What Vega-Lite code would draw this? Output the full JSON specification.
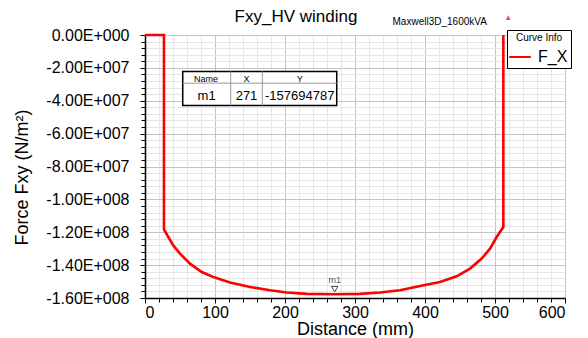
{
  "$schema": "https://vega.github.io/schema/vega-lite/v6.json",
  "autosize": "none",
  "width": 420,
  "height": 263,
  "padding": {"left": 145, "top": 35, "right": 23, "bottom": 40},
  "background": "white",
  "config": {
    "font": "Liberation Sans",
    "view": {"stroke": "black", "strokeWidth": 1}
  },
  "title": {
    "text": "Fxy_HV winding",
    "fontSize": 17,
    "fontWeight": "normal",
    "font": "Liberation Sans",
    "anchor": "middle",
    "frame": "group",
    "dx": -59,
    "dy": 20,
    "offset": 8,
    "color": "black"
  },
  "datasets": {
    "curve": [
      {"d": 0, "f": 0, "s": "F_X"},
      {"d": 27.1, "f": 0, "s": "F_X"},
      {"d": 27.1, "f": -118200000, "s": "F_X"},
      {"d": 33.3, "f": -122900000, "s": "F_X"},
      {"d": 40.4, "f": -128000000, "s": "F_X"},
      {"d": 50, "f": -133000000, "s": "F_X"},
      {"d": 64.3, "f": -139100000, "s": "F_X"},
      {"d": 81, "f": -144200000, "s": "F_X"},
      {"d": 97.6, "f": -147200000, "s": "F_X"},
      {"d": 121.4, "f": -150600000, "s": "F_X"},
      {"d": 150, "f": -153300000, "s": "F_X"},
      {"d": 178.6, "f": -155300000, "s": "F_X"},
      {"d": 202.4, "f": -156700000, "s": "F_X"},
      {"d": 231, "f": -157500000, "s": "F_X"},
      {"d": 271, "f": -157694787, "s": "F_X"},
      {"d": 307, "f": -157500000, "s": "F_X"},
      {"d": 335.7, "f": -156700000, "s": "F_X"},
      {"d": 364.3, "f": -155300000, "s": "F_X"},
      {"d": 392.9, "f": -152700000, "s": "F_X"},
      {"d": 421.4, "f": -150300000, "s": "F_X"},
      {"d": 445.3, "f": -146800000, "s": "F_X"},
      {"d": 464.3, "f": -142100000, "s": "F_X"},
      {"d": 481, "f": -136000000, "s": "F_X"},
      {"d": 492.9, "f": -130000000, "s": "F_X"},
      {"d": 502.4, "f": -122900000, "s": "F_X"},
      {"d": 511.9, "f": -116800000, "s": "F_X"},
      {"d": 511.9, "f": 0, "s": "F_X"}
    ],
    "one": [{}]
  },
  "data": {"name": "curve"},
  "resolve": {"axis": {"x": "independent", "y": "independent"}},
  "layer": [
    {
      "mark": {"type": "point", "opacity": 0},
      "encoding": {
        "x": {
          "field": "d", "type": "quantitative",
          "scale": {"domain": [0, 600], "nice": false, "zero": false},
          "axis": {
            "orient": "bottom",
            "values": [0,20,40,60,80,100,120,140,160,180,200,220,240,260,280,300,320,340,360,380,400,420,440,460,480,500,520,540,560,580,600],
            "labels": false, "domain": false, "title": null,
            "grid": true, "gridColor": "#e6e6e6", "gridWidth": 1,
            "ticks": true, "tickSize": 4, "tickColor": "black"
          }
        },
        "y": {
          "field": "f", "type": "quantitative",
          "scale": {"domain": [-160000000, 0], "nice": false, "zero": false},
          "axis": {
            "orient": "left",
            "values": [0,-4000000,-8000000,-12000000,-16000000,-20000000,-24000000,-28000000,-32000000,-36000000,-40000000,-44000000,-48000000,-52000000,-56000000,-60000000,-64000000,-68000000,-72000000,-76000000,-80000000,-84000000,-88000000,-92000000,-96000000,-100000000,-104000000,-108000000,-112000000,-116000000,-120000000,-124000000,-128000000,-132000000,-136000000,-140000000,-144000000,-148000000,-152000000,-156000000,-160000000],
            "labels": false, "domain": false, "title": null,
            "grid": true, "gridColor": "#e6e6e6", "gridWidth": 1,
            "ticks": true, "tickSize": 4, "tickColor": "black"
          }
        }
      }
    },
    {
      "mark": {"type": "line", "strokeWidth": 2.6, "interpolate": "linear"},
      "encoding": {
        "x": {
          "field": "d", "type": "quantitative",
          "scale": {"domain": [0, 600], "nice": false, "zero": false},
          "axis": {
            "orient": "bottom",
            "values": [0,100,200,300,400,500,600],
            "title": "Distance (mm)",
            "titleFontSize": 18, "titleFontWeight": "normal", "titleColor": "black",
            "titleBaseline": "middle", "titleY": 31.5,
            "labelFontSize": 16, "labelColor": "black", "labelPadding": 1,
            "grid": true, "gridColor": "#c4c4c4", "gridWidth": 1,
            "domain": true, "domainColor": "black", "domainWidth": 1.5,
            "ticks": true, "tickSize": 5, "tickColor": "black"
          }
        },
        "y": {
          "field": "f", "type": "quantitative",
          "scale": {"domain": [-160000000, 0], "nice": false, "zero": false},
          "axis": {
            "orient": "left",
            "values": [0,-20000000,-40000000,-60000000,-80000000,-100000000,-120000000,-140000000,-160000000],
            "labelExpr": "datum.value == 0 ? '0.00E+000' : '-' + format(abs(datum.value)/pow(10, floor(log(abs(datum.value))/LN10 + 1e-9)), '.2f') + 'E+' + format(floor(log(abs(datum.value))/LN10 + 1e-9), '03d')",
            "title": "Force Fxy (N/m²)",
            "titleFontSize": 18, "titleFontWeight": "normal", "titleColor": "black",
            "titleBaseline": "middle", "titleX": -123, "titleY": 142,
            "labelFontSize": 16, "labelColor": "black", "labelPadding": 11,
            "grid": true, "gridColor": "#c4c4c4", "gridWidth": 1,
            "domain": true, "domainColor": "black", "domainWidth": 1.5,
            "ticks": true, "tickSize": 5, "tickColor": "black"
          }
        },
        "color": {
          "field": "s", "type": "nominal",
          "scale": {"domain": ["F_X"], "range": ["#ff0000"]},
          "legend": {
            "title": "Curve Info",
            "orient": "none", "legendX": 362, "legendY": -5,
            "strokeColor": "black", "fillColor": "white", "padding": 3,
            "titleAnchor": "middle", "titleFontSize": 10, "titleFontWeight": "normal", "titleColor": "black", "titlePadding": 4,
            "labelFontSize": 16, "labelColor": "black", "labelOffset": 8,
            "symbolType": "M-1.2,0H1.2", "symbolStrokeWidth": 2, "symbolSize": 324
          }
        }
      }
    },
    {
      "data": {"name": "one"},
      "layer": [
        {
          "mark": {"type": "point", "shape": "triangle-down", "filled": false, "stroke": "black", "strokeWidth": 1, "size": 40, "yOffset": -5},
          "encoding": {
            "x": {"datum": 271, "type": "quantitative", "axis": null},
            "y": {"datum": -157694787, "type": "quantitative", "axis": null}
          }
        },
        {
          "mark": {"type": "text", "fontSize": 9, "color": "#555555", "yOffset": -14},
          "encoding": {
            "x": {"datum": 271, "type": "quantitative", "axis": null},
            "y": {"datum": -157694787, "type": "quantitative", "axis": null},
            "text": {"value": "m1"}
          }
        },
        {
          "mark": {"type": "rect", "fill": "white", "stroke": "black", "strokeWidth": 1.5},
          "encoding": {
            "x": {"datum": 53.9, "type": "quantitative", "axis": null},
            "x2": {"datum": 273.9},
            "y": {"datum": -22200000, "type": "quantitative", "axis": null},
            "y2": {"datum": -42900000}
          }
        },
        {
          "mark": {"type": "rule", "color": "#999999", "strokeWidth": 1},
          "encoding": {
            "x": {"datum": 53.9, "type": "quantitative", "axis": null},
            "x2": {"datum": 273.9},
            "y": {"datum": -29300000, "type": "quantitative", "axis": null}
          }
        },
        {
          "mark": {"type": "rule", "color": "#999999", "strokeWidth": 1},
          "encoding": {
            "x": {"datum": 122.4, "type": "quantitative", "axis": null},
            "y": {"datum": -22200000, "type": "quantitative", "axis": null},
            "y2": {"datum": -42900000}
          }
        },
        {
          "mark": {"type": "rule", "color": "#999999", "strokeWidth": 1},
          "encoding": {
            "x": {"datum": 167.6, "type": "quantitative", "axis": null},
            "y": {"datum": -22200000, "type": "quantitative", "axis": null},
            "y2": {"datum": -42900000}
          }
        },
        {
          "mark": {"type": "text", "fontSize": 9, "color": "black"},
          "encoding": {"x": {"datum": 87, "type": "quantitative", "axis": null}, "y": {"datum": -27000000, "type": "quantitative", "axis": null}, "text": {"value": "Name"}}
        },
        {
          "mark": {"type": "text", "fontSize": 9, "color": "black"},
          "encoding": {"x": {"datum": 145, "type": "quantitative", "axis": null}, "y": {"datum": -27000000, "type": "quantitative", "axis": null}, "text": {"value": "X"}}
        },
        {
          "mark": {"type": "text", "fontSize": 9, "color": "black"},
          "encoding": {"x": {"datum": 221, "type": "quantitative", "axis": null}, "y": {"datum": -27000000, "type": "quantitative", "axis": null}, "text": {"value": "Y"}}
        },
        {
          "mark": {"type": "text", "fontSize": 13, "color": "black"},
          "encoding": {"x": {"datum": 88, "type": "quantitative", "axis": null}, "y": {"datum": -37200000, "type": "quantitative", "axis": null}, "text": {"value": "m1"}}
        },
        {
          "mark": {"type": "text", "fontSize": 13, "color": "black"},
          "encoding": {"x": {"datum": 145, "type": "quantitative", "axis": null}, "y": {"datum": -37200000, "type": "quantitative", "axis": null}, "text": {"value": "271"}}
        },
        {
          "mark": {"type": "text", "fontSize": 13, "color": "black"},
          "encoding": {"x": {"datum": 221, "type": "quantitative", "axis": null}, "y": {"datum": -37200000, "type": "quantitative", "axis": null}, "text": {"value": "-157694787"}}
        },
        {
          "mark": {"type": "text", "fontSize": 10, "color": "black"},
          "encoding": {"x": {"datum": 421, "type": "quantitative", "axis": null}, "y": {"datum": 8000000, "type": "quantitative", "axis": null}, "text": {"value": "Maxwell3D_1600kVA"}}
        },
        {
          "mark": {"type": "text", "fontSize": 8, "color": "#e05050"},
          "encoding": {"x": {"datum": 519, "type": "quantitative", "axis": null}, "y": {"datum": 10500000, "type": "quantitative", "axis": null}, "text": {"value": "▲"}}
        }
      ]
    }
  ]
}
